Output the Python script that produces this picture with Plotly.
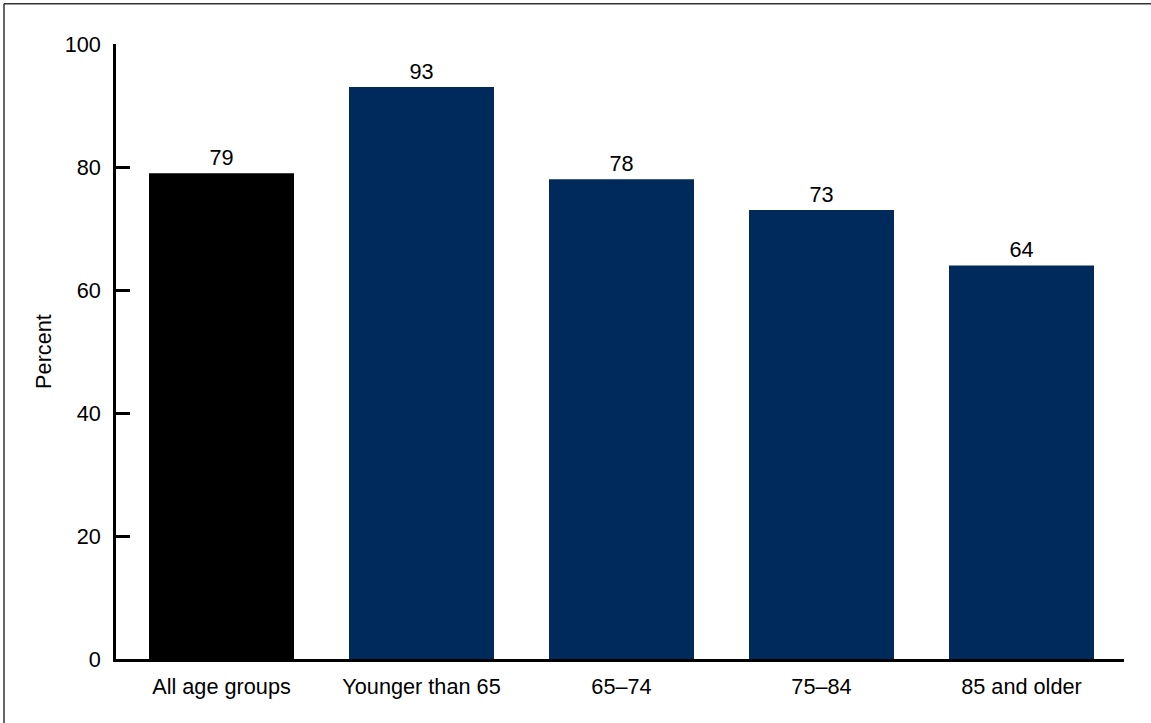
import plotly.graph_objects as go

categories = ["All age groups", "Younger than 65", "65\u201374", "75\u201384", "85 and older"]
values = [79, 93, 78, 73, 64]
bar_colors = ["#000000", "#002a5c", "#002a5c", "#002a5c", "#002a5c"]
y_ticks = [0, 20, 40, 60, 80, 100]

FONT = "Liberation Sans, Arial, sans-serif"
FS = 21.7

fig = go.Figure()
fig.add_trace(go.Bar(
    x=categories,
    y=values,
    marker=dict(color=bar_colors, line=dict(width=0)),
    width=0.725,
    text=[str(v) for v in values],
    textposition="outside",
    textfont=dict(family=FONT, size=FS, color="#000000"),
    cliponaxis=False,
    showlegend=False,
    hoverinfo="skip",
))

fig.update_layout(
    width=1151,
    height=723,
    margin=dict(l=116, r=27, t=44, b=64),
    paper_bgcolor="#ffffff",
    plot_bgcolor="#ffffff",
    font=dict(family=FONT, size=FS, color="#000000"),
    xaxis=dict(
        type="category",
        range=[-0.5275, 4.5125],
        showline=True,
        linecolor="#000000",
        linewidth=2.5,
        ticks="",
        showgrid=False,
        zeroline=False,
        tickfont=dict(family=FONT, size=FS, color="#000000"),
        ticklabelstandoff=6,
    ),
    yaxis=dict(
        range=[0, 100],
        tickvals=y_ticks,
        ticktext=[str(t) for t in y_ticks],
        showline=True,
        linecolor="#000000",
        linewidth=2.5,
        ticks="inside",
        ticklen=14,
        tickwidth=2.5,
        tickcolor="#000000",
        showgrid=False,
        zeroline=False,
        tickfont=dict(family=FONT, size=FS, color="#000000"),
        ticklabelstandoff=8,
        title=dict(text="Percent", font=dict(family=FONT, size=FS, color="#000000"), standoff=8),
    ),
    shapes=[
        dict(type="line", xref="paper", yref="paper",
             x0=-0.1111, x1=1.2, y0=1.0655, y1=1.0655,
             line=dict(color="#333333", width=1.5), layer="below"),
        dict(type="line", xref="paper", yref="paper",
             x0=-0.1111, x1=-0.1111, y0=-0.3, y1=1.0655,
             line=dict(color="#333333", width=1.5), layer="below"),
    ],
)

fig.write_html(
    "out.html",
    config={"displayModeBar": False},
    post_script="document.body.style.margin='0';document.body.style.padding='0';document.body.style.overflow='hidden';",
)
